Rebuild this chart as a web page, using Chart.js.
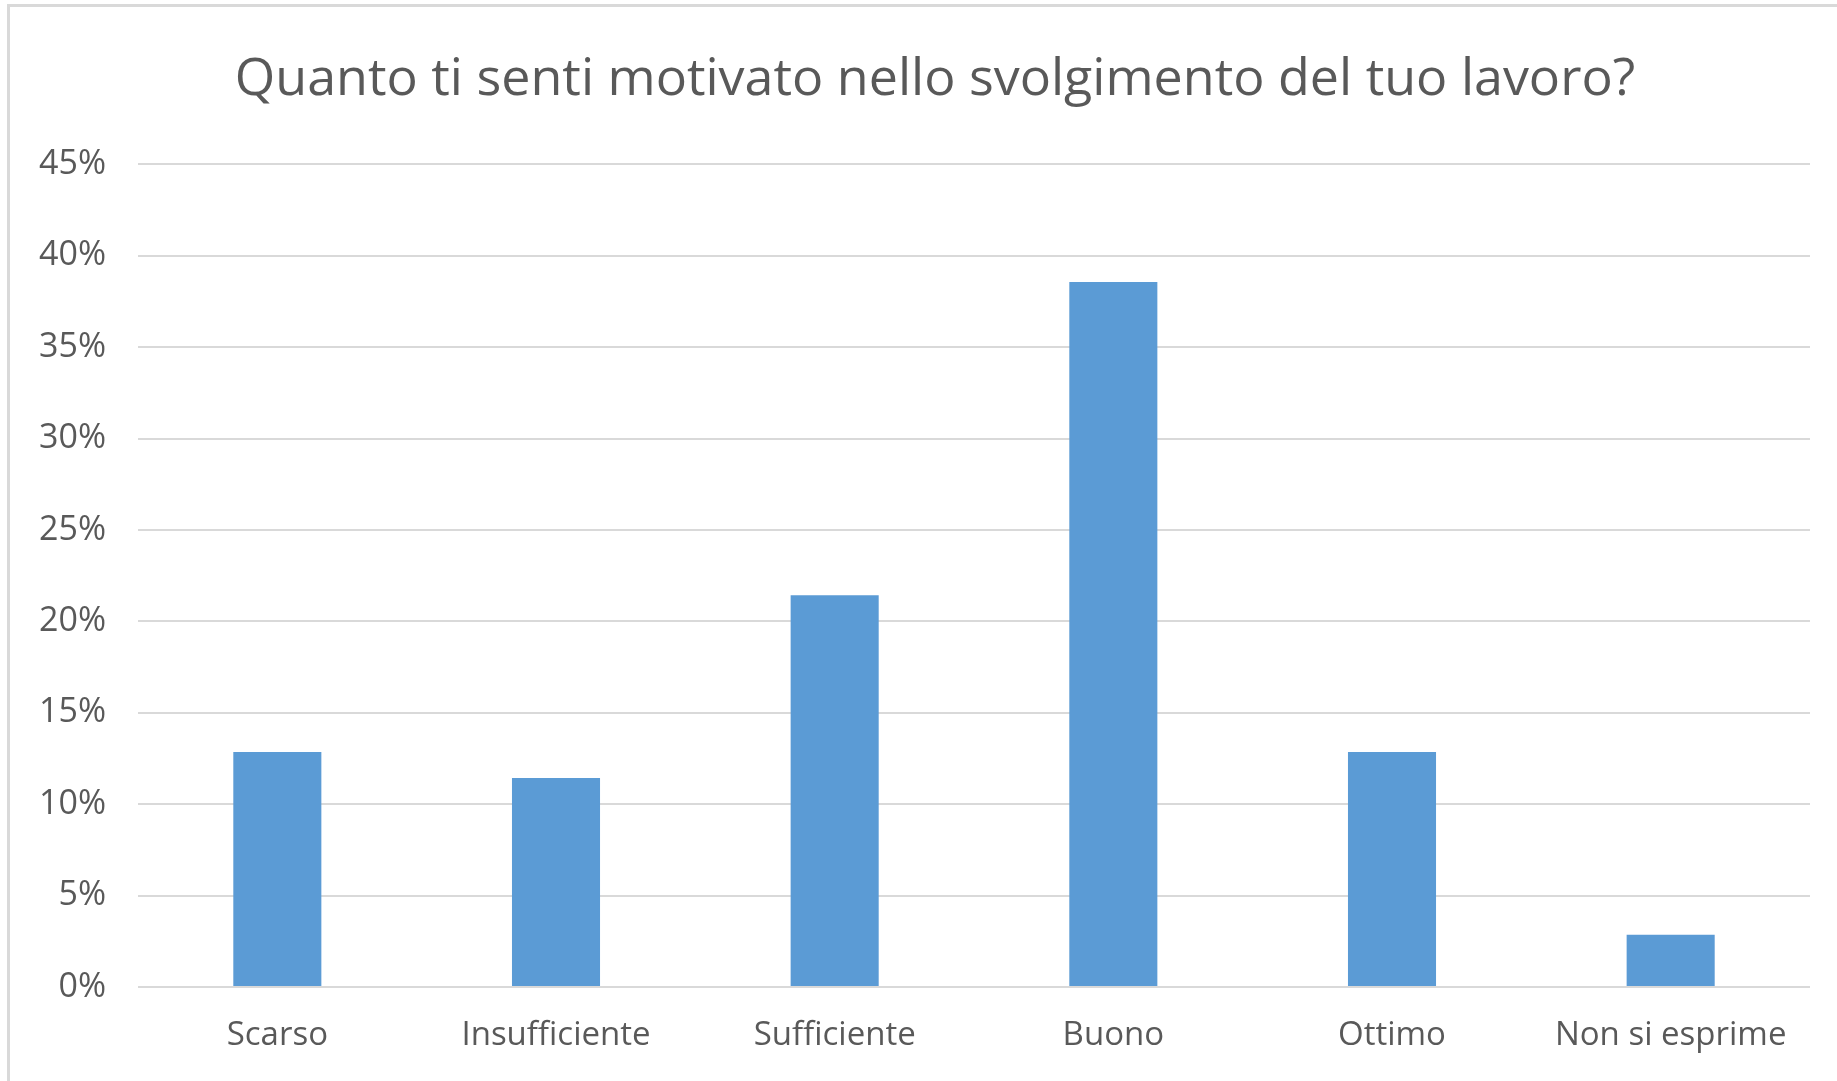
<!DOCTYPE html>
<html lang="it">
<head>
<meta charset="utf-8">
<title>Quanto ti senti motivato nello svolgimento del tuo lavoro?</title>
<script src="https://cdn.jsdelivr.net/npm/chart.js@4.4.1/dist/chart.umd.min.js"></script>
<style>
  html, body { margin: 0; padding: 0; background: #ffffff; overflow: hidden; }
  .chart-frame {
    position: absolute;
    left: 7px;
    top: 4px;
    width: 1900px;
    height: 1100px;
    border: 3px solid #d9d9d9;
    background: #ffffff;
  }
  #motivationChart { display: block; }
</style>
</head>
<body>
<div class="chart-frame">
  <canvas id="motivationChart" width="1827" height="1074"></canvas>
</div>
<script>
const chartTitle = 'Quanto ti senti motivato nello svolgimento del tuo lavoro?';
const categories = ['Scarso', 'Insufficiente', 'Sufficiente', 'Buono', 'Ottimo', 'Non si esprime'];
const shares = [0.1286, 0.1143, 0.2143, 0.3857, 0.1286, 0.0286];
const yTicks = [0, 0.05, 0.10, 0.15, 0.20, 0.25, 0.30, 0.35, 0.40, 0.45];

const textColor = '#595959';
const gridColor = '#d9d9d9';
const fontFamily = '"Open Sans", Lato, "Noto Sans", sans-serif';

// The title in the original is centred on the whole chart box, which runs
// past the right edge of the picture, so nudge it a little to the right.
const titleShiftPlugin = {
  id: 'titleShift',
  afterLayout(chart) {
    const block = chart.titleBlock;
    if (block) {
      block.left += 11;
      block.right += 11;
    }
  }
};

function initializeChart() {
  const canvas = document.getElementById('motivationChart');
  if (typeof Chart === 'undefined' || !canvas) {
    return;
  }

  new Chart(canvas, {
    type: 'bar',
    data: {
      labels: categories,
      datasets: [{
        data: shares,
        backgroundColor: '#5b9bd5',
        borderWidth: 0,
        categoryPercentage: 1,
        barPercentage: 0.316
      }]
    },
    plugins: [titleShiftPlugin],
    options: {
      responsive: false,
      animation: false,
      layout: { padding: { left: 28, right: 27, top: 0, bottom: 0 } },
      plugins: {
        legend: { display: false },
        tooltip: { enabled: false },
        title: {
          display: true,
          text: chartTitle,
          color: textColor,
          font: { family: fontFamily, size: 52, weight: 'normal', lineHeight: 1.2 },
          padding: { top: 42, bottom: 53 }
        }
      },
      scales: {
        x: {
          afterFit: (scale) => {
            scale.height = 94;
          },
          grid: { display: false, drawTicks: false },
          border: { display: false },
          ticks: {
            color: textColor,
            font: { family: fontFamily, size: 33 },
            padding: 29,
            maxRotation: 0,
            autoSkip: false
          }
        },
        y: {
          min: yTicks[0],
          max: yTicks[yTicks.length - 1],
          afterBuildTicks: (scale) => {
            scale.ticks = yTicks.map((value) => ({ value }));
          },
          afterFit: (scale) => {
            scale.width = 100;
          },
          grid: { color: gridColor, lineWidth: 2, drawTicks: false },
          border: { display: false },
          ticks: {
            color: textColor,
            font: { family: fontFamily, size: 34 },
            padding: 32,
            callback: (value) => `${Math.round(value * 100)}%`
          }
        }
      }
    }
  });
}

document.addEventListener('DOMContentLoaded', initializeChart);
</script>
</body>
</html>
